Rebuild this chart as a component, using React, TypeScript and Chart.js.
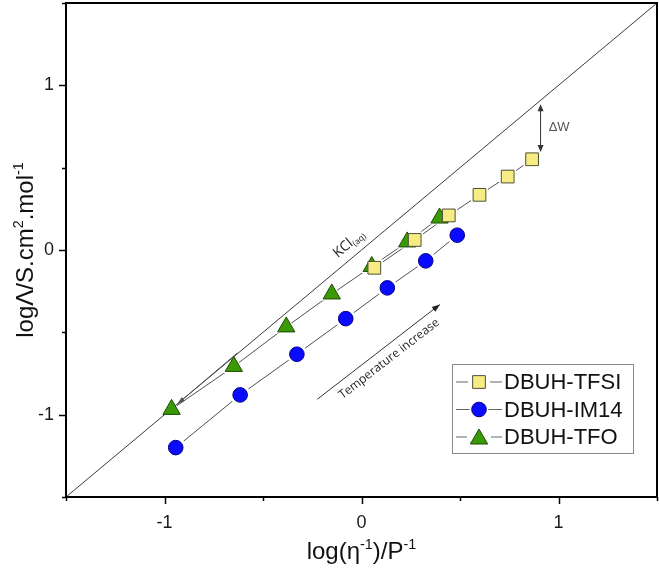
import React, { useEffect, useRef } from "react";
import { Chart, registerables } from "chart.js";
import { drawPoint } from "chart.js/helpers";

Chart.register(...registerables);

// ---- data ----
const tfsiX = [0.065, 0.27, 0.443, 0.599, 0.742, 0.866];
const tfsiY = [-0.108, 0.061, 0.21, 0.335, 0.446, 0.551];
const im14X = [-0.943, -0.616, -0.328, -0.08, 0.131, 0.326, 0.486];
const im14Y = [-1.2, -0.88, -0.633, -0.417, -0.23, -0.066, 0.09];
const tfoX = [-0.964, -0.648, -0.382, -0.151, 0.052, 0.232, 0.396];
const tfoY = [-0.968, -0.707, -0.467, -0.267, -0.1, 0.049, 0.194];
const kclX = [-1.5, 1.5];
const kclY = [-1.5, 1.5];
const seriesNames = ["DBUH-TFSI", "DBUH-IM14", "DBUH-TFO"];
const majorTicks = [-1, 0, 1];
const minorTicks = [-1.5, -0.5, 0.5, 1.5];
const axisMin = -1.5;
const axisMax = 1.5;

const toXY = (xs: number[], ys: number[]) => xs.map((x, i) => ({ x, y: ys[i] }));

const AX_FONT = "'Liberation Sans', Arial, sans-serif";
const NOTE_FONT = "'Open Sans', 'Noto Sans', sans-serif";

const styles = [
  { pointStyle: "rect", r: 9, fill: "#f7ec84", border: "#4f4f36" },
  { pointStyle: "circle", r: 7.3, fill: "#0a0aff", border: "#00008a" },
  { pointStyle: "triangle", r: 10, fill: "#3a9a06", border: "#1c4c00" },
];

function arrowHead(ctx: CanvasRenderingContext2D, x1: number, y1: number, x2: number, y2: number, len = 8, half = 3) {
  const a = Math.atan2(y2 - y1, x2 - x1);
  ctx.beginPath();
  ctx.moveTo(x2, y2);
  ctx.lineTo(x2 - len * Math.cos(a) + half * Math.sin(a), y2 - len * Math.sin(a) - half * Math.cos(a));
  ctx.lineTo(x2 - len * Math.cos(a) - half * Math.sin(a), y2 - len * Math.sin(a) + half * Math.cos(a));
  ctx.closePath();
  ctx.fill();
}

type Part = { t: string; sup?: boolean; sub?: boolean };
function richWidth(ctx: CanvasRenderingContext2D, parts: Part[], size: number, family: string) {
  let w = 0;
  for (const p of parts) {
    const s = p.sup || p.sub ? size * 0.6 : size;
    ctx.font = `${s}px ${family}`;
    w += ctx.measureText(p.t).width;
  }
  return w;
}
function drawRich(ctx: CanvasRenderingContext2D, parts: Part[], x: number, y: number, size: number, family: string) {
  let cx = x;
  for (const p of parts) {
    const s = p.sup || p.sub ? size * 0.6 : size;
    ctx.font = `${s}px ${family}`;
    const dy = p.sup ? -size * 0.42 : p.sub ? size * 0.28 : 0;
    ctx.fillText(p.t, cx, y + dy);
    cx += ctx.measureText(p.t).width;
  }
}

const decorPlugin = {
  id: "decor",
  afterDatasetsDraw(chart: any) {
    const { ctx, chartArea: ca } = chart;
    const xs = chart.scales.x;
    const ys = chart.scales.y;
    const px = (v: number) => xs.getPixelForValue(v);
    const py = (v: number) => ys.getPixelForValue(v);
    ctx.save();

    // frame
    ctx.strokeStyle = "#000";
    ctx.lineWidth = 2;
    ctx.strokeRect(ca.left, ca.top, ca.right - ca.left, ca.bottom - ca.top);

    // ticks
    ctx.lineWidth = 1.5;
    const tickSets: [number[], number][] = [
      [majorTicks, 7],
      [minorTicks, 4],
    ];
    for (const [vals, len] of tickSets) {
      for (const v of vals) {
        const X = Math.round(px(v)) + 0.5;
        ctx.beginPath();
        ctx.moveTo(X, ca.bottom);
        ctx.lineTo(X, ca.bottom + len);
        ctx.stroke();
        const Y = Math.round(py(v)) + 0.5;
        ctx.beginPath();
        ctx.moveTo(ca.left, Y);
        ctx.lineTo(ca.left - len, Y);
        ctx.stroke();
      }
    }

    // ΔW double arrow
    ctx.strokeStyle = "#333";
    ctx.fillStyle = "#333";
    ctx.lineWidth = 1;
    const wx = px(0.909);
    const wy1 = py(0.885);
    const wy2 = py(0.595);
    ctx.beginPath();
    ctx.moveTo(wx, wy1 + 4);
    ctx.lineTo(wx, wy2 - 4);
    ctx.stroke();
    arrowHead(ctx, wx, wy2, wx, wy1, 7, 3);
    arrowHead(ctx, wx, wy1, wx, wy2, 7, 3);
    ctx.fillStyle = "#555";
    ctx.font = `13px ${AX_FONT}`;
    ctx.textAlign = "left";
    ctx.textBaseline = "middle";
    ctx.fillText("ΔW", px(0.95), py(0.743));

    // temperature arrow
    ctx.strokeStyle = "#333";
    ctx.fillStyle = "#222";
    const tx1 = px(-0.224), ty1 = py(-0.906), tx2 = px(0.398), ty2 = py(-0.331);
    ctx.beginPath();
    ctx.moveTo(tx1, ty1);
    ctx.lineTo(tx2, ty2);
    ctx.stroke();
    arrowHead(ctx, tx1, ty1, tx2, ty2, 8, 3);
    const ta = Math.atan2(ty2 - ty1, tx2 - tx1);
    const mx = (tx1 + tx2) / 2 + 12 * -Math.sin(ta) + 4 * Math.cos(ta);
    const my = (ty1 + ty2) / 2 + 12 * Math.cos(ta) + 4 * Math.sin(ta);
    ctx.save();
    ctx.translate(mx, my);
    ctx.rotate(ta);
    ctx.font = `12px ${NOTE_FONT}`;
    ctx.fillStyle = "#222";
    ctx.textAlign = "center";
    ctx.textBaseline = "middle";
    ctx.fillText("Temperature increase", 0, 0);
    ctx.restore();

    // arrow pointing to first TFO point
    ctx.strokeStyle = "#555";
    ctx.fillStyle = "#555";
    const ax1 = px(-0.63), ay1 = py(-0.625), ax2 = px(-0.935), ay2 = py(-0.935);
    ctx.beginPath();
    ctx.moveTo(ax1, ay1);
    ctx.lineTo(ax2, ay2);
    ctx.stroke();
    arrowHead(ctx, ax1, ay1, ax2, ay2, 8, 2.5);

    // KCl(aq) label along ideal line
    const ka = Math.atan2(py(1) - py(-1), px(1) - px(-1));
    const kParts: Part[] = [{ t: "KCl" }, { t: "(aq)", sub: true }];
    ctx.save();
    ctx.translate(px(-0.064), py(0.038));
    ctx.rotate(ka);
    ctx.fillStyle = "#222";
    ctx.textAlign = "left";
    ctx.textBaseline = "middle";
    const kw = richWidth(ctx, kParts, 14, NOTE_FONT);
    drawRich(ctx, kParts, -kw / 2, 0, 14, NOTE_FONT);
    ctx.restore();

    ctx.restore();
  },
  afterDraw(chart: any) {
    const { ctx, chartArea: ca } = chart;
    ctx.save();
    // axis titles
    ctx.fillStyle = "#111";
    ctx.textAlign = "left";
    ctx.textBaseline = "alphabetic";
    const xt: Part[] = [{ t: "log(η" }, { t: "-1", sup: true }, { t: ")/P" }, { t: "-1", sup: true }];
    const xw = richWidth(ctx, xt, 24, AX_FONT);
    drawRich(ctx, xt, (ca.left + ca.right) / 2 - xw / 2, 559, 24, AX_FONT);

    const yt: Part[] = [
      { t: "logΛ/S.cm" },
      { t: "2", sup: true },
      { t: ".mol" },
      { t: "-1", sup: true },
    ];
    const yw = richWidth(ctx, yt, 24, AX_FONT);
    ctx.save();
    ctx.translate(33, (ca.top + ca.bottom) / 2);
    ctx.rotate(-Math.PI / 2);
    drawRich(ctx, yt, -yw / 2, 0, 24, AX_FONT);
    ctx.restore();

    // legend
    const left = ca.right - 205;
    const top = ca.bottom - 133;
    const w = 181;
    const h = 89;
    ctx.fillStyle = "#fff";
    ctx.fillRect(left, top, w, h);
    ctx.strokeStyle = "#8a8a8a";
    ctx.lineWidth = 1;
    ctx.strokeRect(left + 0.5, top + 0.5, w, h);
    const rows = [18, 45.5, 73];
    rows.forEach((dy, i) => {
      const st = styles[i];
      const cy = top + dy;
      const cx = left + 27;
      ctx.strokeStyle = "#666";
      ctx.lineWidth = 1;
      ctx.beginPath();
      ctx.moveTo(left + 4, cy);
      ctx.lineTo(cx - st.r - 2, cy);
      ctx.moveTo(cx + st.r + 2, cy);
      ctx.lineTo(left + 50, cy);
      ctx.stroke();
      ctx.fillStyle = st.fill;
      ctx.strokeStyle = st.border;
      ctx.lineWidth = 1;
      drawPoint(ctx, { pointStyle: st.pointStyle, radius: st.r, rotation: 0, borderWidth: 1 } as any, cx, st.pointStyle === "triangle" ? cy + 2 : cy);
      ctx.fillStyle = "#111";
      ctx.font = `22px ${AX_FONT}`;
      ctx.textAlign = "left";
      ctx.textBaseline = "middle";
      ctx.fillText(seriesNames[i], left + 52, cy + 1);
    });
    ctx.restore();
  },
};

const zeroPad = (s: any) => {
  s.paddingLeft = 0;
  s.paddingRight = 0;
  s.paddingTop = 0;
  s.paddingBottom = 0;
};

export default function App() {
  const ref = useRef<HTMLCanvasElement>(null);
  useEffect(() => {
    document.body.style.margin = "0";
    const series = [
      { xs: tfsiX, ys: tfsiY, st: styles[0], order: 0 },
      { xs: im14X, ys: im14Y, st: styles[1], order: 1 },
      { xs: tfoX, ys: tfoY, st: styles[2], order: 1 },
    ];
    const datasets: any[] = [];
    series.forEach((s) => {
      datasets.push({
        data: toXY(s.xs, s.ys),
        showLine: true,
        borderColor: "#505050",
        borderWidth: 1,
        pointRadius: 0,
        order: 5,
      });
      datasets.push({
        data: toXY(s.xs, s.ys),
        showLine: false,
        pointStyle: s.st.pointStyle,
        pointRadius: s.st.r + 3,
        pointBackgroundColor: "#ffffff",
        pointBorderWidth: 0,
        order: 4,
      });
      datasets.push({
        data: toXY(s.xs, s.ys),
        showLine: false,
        pointStyle: s.st.pointStyle,
        pointRadius: s.st.r,
        pointBackgroundColor: s.st.fill,
        pointBorderColor: s.st.border,
        pointBorderWidth: 1,
        order: s.order,
      });
    });
    datasets.push({
      data: toXY(kclX, kclY),
      showLine: true,
      borderColor: "#3a3a3a",
      borderWidth: 1,
      pointRadius: 0,
      order: 2,
    });

    const onlyMajor = (s: any) => {
      s.ticks = majorTicks.map((v) => ({ value: v }));
    };
    const chart = new Chart(ref.current!, {
      type: "scatter",
      data: { datasets },
      options: {
        animation: false,
        responsive: false,
        events: [],
        layout: { autoPadding: false, padding: { top: 3, right: 2, left: 0, bottom: 0 } },
        plugins: { legend: { display: false }, tooltip: { enabled: false } },
        scales: {
          x: {
            type: "linear",
            min: axisMin,
            max: axisMax,
            afterBuildTicks: onlyMajor,
            ticks: {
              callback: (v: any) => String(v),
              autoSkip: false,
              maxRotation: 0,
              padding: 15,
              color: "#1a1a1a",
              font: { family: AX_FONT, size: 18 },
            },
            grid: { drawOnChartArea: false, drawTicks: false },
            border: { display: false },
            afterFit: (s: any) => {
              s.height = 77;
              zeroPad(s);
            },
          },
          y: {
            type: "linear",
            min: axisMin,
            max: axisMax,
            afterBuildTicks: onlyMajor,
            ticks: {
              callback: (v: any) => String(v),
              autoSkip: false,
              padding: 12,
              color: "#1a1a1a",
              font: { family: AX_FONT, size: 18 },
            },
            grid: { drawOnChartArea: false, drawTicks: false },
            border: { display: false },
            afterFit: (s: any) => {
              s.width = 66;
              zeroPad(s);
            },
          },
        },
      } as any,
      plugins: [decorPlugin],
    });
    return () => chart.destroy();
  }, []);
  return <canvas ref={ref} width={659} height={574} style={{ display: "block", width: "659px", height: "574px" }} />;
}
